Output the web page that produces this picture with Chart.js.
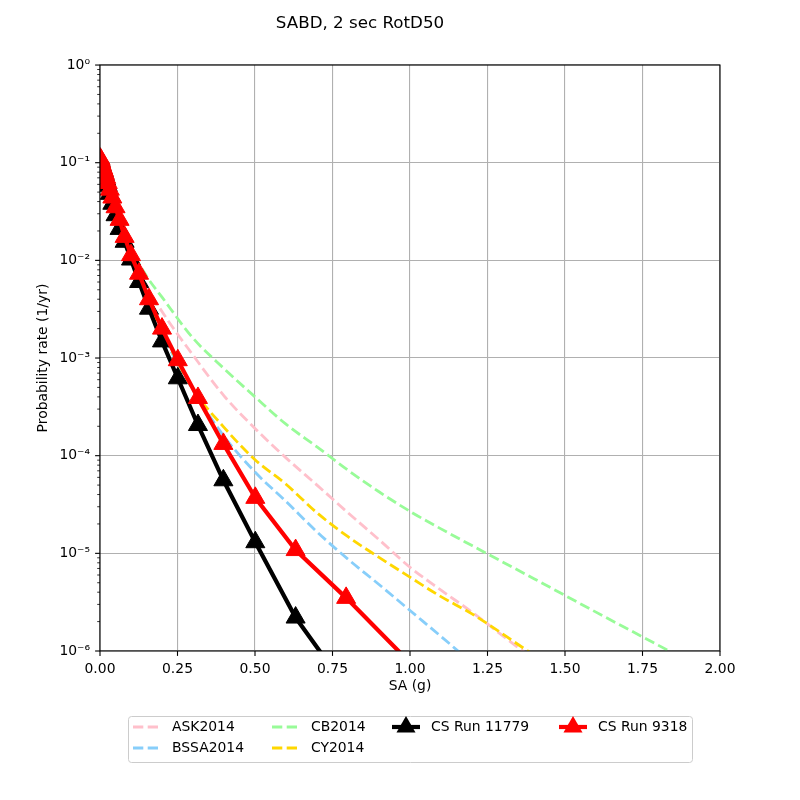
<!DOCTYPE html>
<html>
<head>
<meta charset="utf-8">
<script src="https://cdn.jsdelivr.net/npm/chart.js@4.4.1/dist/chart.umd.min.js"></script>
<style>
  html, body { margin: 0; padding: 0; background: #fff; }
  canvas { display: block; }
</style>
</head>
<body>
<canvas id="hazardChart" width="800" height="800"></canvas>
<script>
// SA levels (g) for the CyberShake runs
const csX = [0.001, 0.00158, 0.00251, 0.00398, 0.00631, 0.01, 0.0126, 0.0158, 0.02, 0.0251, 0.0316, 0.0398, 0.0501, 0.0631, 0.0794, 0.1, 0.126, 0.158, 0.2, 0.251, 0.316, 0.398, 0.501, 0.631, 0.794, 1.0];
const run11779 = [0.107, 0.105, 0.102, 0.098, 0.093, 0.086, 0.081, 0.075, 0.067, 0.058, 0.048, 0.038, 0.029, 0.021, 0.0155, 0.0102, 0.006, 0.0032, 0.00148, 6.2e-4, 2.06e-4, 5.6e-5, 1.3e-5, 2.2e-6, 4.2e-7, 6e-8];
const run9318 = [0.11, 0.108, 0.104, 0.1, 0.095, 0.088, 0.083, 0.077, 0.07, 0.062, 0.053, 0.044, 0.035, 0.026, 0.0174, 0.0113, 0.0073, 0.004, 0.002, 9.5e-4, 3.9e-4, 1.32e-4, 3.7e-5, 1.08e-5, 3.5e-6, 7.6e-7];

// SA levels (g) for the GMPE curves
const gmpeX = [0.001, 0.01, 0.02, 0.05, 0.1, 0.15, 0.2, 0.3, 0.4, 0.5, 0.6, 0.7, 0.8, 0.9, 1.0, 1.1, 1.2, 1.4, 1.6, 1.8, 2.0];
const ask2014 = [0.11, 0.09, 0.072, 0.036, 0.0125, 0.0056, 0.003, 0.00107, 4.1e-4, 1.9e-4, 9.5e-5, 5.0e-5, 2.6e-5, 1.38e-5, 7.2e-6, 4.2e-6, 2.5e-6, 8.3e-7, 3.5e-7, 1.4e-7, 6e-8];
const bssa2014 = [0.11, 0.088, 0.07, 0.034, 0.0105, 0.0038, 0.00175, 4.7e-4, 1.58e-4, 6.8e-5, 3.4e-5, 1.66e-5, 8.7e-6, 4.8e-6, 2.6e-6, 1.41e-6, 7.6e-7, 2.5e-7, 8e-8, 3e-8, 1e-8];
const cb2014 = [0.11, 0.092, 0.076, 0.04, 0.0135, 0.0069, 0.0042, 0.0016, 7.8e-4, 4.0e-4, 2.1e-4, 1.23e-4, 7.1e-5, 4.27e-5, 2.69e-5, 1.78e-5, 1.2e-5, 5.5e-6, 2.5e-6, 1.15e-6, 5.3e-7];
const cy2014 = [0.11, 0.09, 0.072, 0.035, 0.011, 0.0042, 0.0019, 4.8e-4, 1.95e-4, 9.1e-5, 5.1e-5, 2.6e-5, 1.48e-5, 9.1e-6, 5.7e-6, 3.6e-6, 2.4e-6, 9.1e-7, 3.7e-7, 1.5e-7, 6e-8];

const xTicks = [0, 0.25, 0.5, 0.75, 1.0, 1.25, 1.5, 1.75, 2.0];
const yDecades = [1, 0.1, 0.01, 0.001, 1e-4, 1e-5, 1e-6];
const yTickLabels = ["10⁰", "10⁻¹", "10⁻²", "10⁻³", "10⁻⁴", "10⁻⁵", "10⁻⁶"];

Chart.defaults.font.family = "'DejaVu Sans', sans-serif";
Chart.defaults.color = "#000";

const toPoints = (xs, ys) => xs.map((x, i) => ({ x: x, y: ys[i] }));

const dashed = (label, color, ys, order) => ({
  label: label,
  data: toPoints(gmpeX, ys),
  borderColor: color,
  backgroundColor: color,
  borderWidth: 2.8,
  borderDash: [10.3, 4.4],
  pointRadius: 0,
  cubicInterpolationMode: "monotone",
  clip: 0,
  order: order,
});

const withMarkers = (label, color, ys, order) => ({
  label: label,
  data: toPoints(csX, ys),
  borderColor: color,
  backgroundColor: color,
  borderWidth: 4.2,
  pointStyle: "triangle",
  pointRadius: 11,
  pointBackgroundColor: color,
  pointBorderColor: color,
  pointBorderWidth: 1,
  tension: 0,
  clip: 0,
  order: order,
});

// log minor ticks 2..9 between decades
const yAllTicks = [];
for (let e = -6; e <= 0; e++) {
  for (let m = 1; m <= 9; m++) {
    const v = m * Math.pow(10, e);
    if (v <= 1.0000001) yAllTicks.push({ value: v, major: m === 1 });
  }
}

// ticks outside the axes, spines on all four sides
const axesPlugin = {
  id: "mplAxes",
  afterDatasetsDraw(chart) {
    const { ctx, chartArea: a } = chart;
    ctx.save();
    ctx.strokeStyle = "#000";
    ctx.lineWidth = 1.1;
    ctx.strokeRect(a.left, a.top, a.right - a.left, a.bottom - a.top);
    const xs = chart.scales.x;
    xs.ticks.forEach((t) => {
      const px = xs.getPixelForValue(t.value);
      ctx.beginPath();
      ctx.moveTo(px, a.bottom);
      ctx.lineTo(px, a.bottom + 4.9);
      ctx.stroke();
    });
    const ys = chart.scales.y;
    ys.ticks.forEach((t) => {
      const py = ys.getPixelForValue(t.value);
      ctx.lineWidth = t.major ? 1.1 : 0.8;
      ctx.beginPath();
      ctx.moveTo(a.left, py);
      ctx.lineTo(a.left - (t.major ? 4.9 : 2.8), py);
      ctx.stroke();
    });
    ctx.restore();
  },
};

// legend in 4 columns, filled column by column
const legendPlugin = {
  id: "columnLegend",
  afterDraw(chart) {
    const ctx = chart.ctx;
    const slots = [[133, 727], [133, 748], [272, 727], [272, 748], [392, 727], [559, 727]];
    ctx.save();
    ctx.beginPath();
    ctx.roundRect(128.5, 716.5, 564, 46, 3);
    ctx.fillStyle = "rgba(255,255,255,0.8)";
    ctx.fill();
    ctx.strokeStyle = "#cccccc";
    ctx.lineWidth = 1;
    ctx.stroke();
    ctx.font = "13.9px 'DejaVu Sans'";
    ctx.textBaseline = "middle";
    chart.data.datasets.forEach((ds, i) => {
      const [hx, hy] = slots[i];
      ctx.strokeStyle = ds.borderColor;
      ctx.lineWidth = ds.borderWidth;
      ctx.setLineDash(ds.borderDash || []);
      ctx.beginPath();
      ctx.moveTo(hx, hy);
      ctx.lineTo(hx + 28, hy);
      ctx.stroke();
      ctx.setLineDash([]);
      if (ds.pointStyle === "triangle") {
        const r = ds.pointRadius;
        const cx = hx + 14;
        ctx.fillStyle = ds.borderColor;
        ctx.beginPath();
        for (let k = 0; k < 3; k++) {
          const ang = (k * 2 * Math.PI) / 3;
          const px = cx + Math.sin(ang) * r;
          const py = hy - Math.cos(ang) * r;
          if (k === 0) ctx.moveTo(px, py);
          else ctx.lineTo(px, py);
        }
        ctx.closePath();
        ctx.fill();
      }
      ctx.fillStyle = "#000";
      ctx.fillText(ds.label, hx + 39, hy);
    });
    ctx.restore();
  },
};

new Chart(document.getElementById("hazardChart"), {
  type: "line",
  data: {
    datasets: [
      dashed("ASK2014", "#ffc0cb", ask2014, 5),
      dashed("BSSA2014", "#87cefa", bssa2014, 4),
      dashed("CB2014", "#98fb98", cb2014, 3),
      dashed("CY2014", "#ffd700", cy2014, 2),
      withMarkers("CS Run 11779", "#000000", run11779, 1),
      withMarkers("CS Run 9318", "#ff0000", run9318, 0),
    ],
  },
  options: {
    responsive: false,
    animation: false,
    devicePixelRatio: 1,
    layout: { padding: { left: 0, right: 80, top: 0, bottom: 89 } },
    plugins: {
      legend: { display: false },
      tooltip: { enabled: false },
      title: {
        display: true,
        text: "SABD, 2 sec RotD50",
        color: "#000",
        font: { size: 16.7, weight: "normal" },
        padding: { top: 14, bottom: 31 },
      },
    },
    scales: {
      x: {
        type: "linear",
        min: 0,
        max: 2,
        afterBuildTicks: (scale) => {
          scale.ticks = xTicks.map((v) => ({ value: v }));
        },
        afterFit: (scale) => {
          scale.height = 60;
        },
        ticks: {
          padding: 10,
          autoSkip: false,
          maxRotation: 0,
          font: { size: 13.9 },
          callback: (v) => Number(v).toFixed(2),
        },
        grid: { color: "#b0b0b0", lineWidth: 1.1, drawTicks: false },
        border: { display: false },
        title: {
          display: true,
          text: "SA (g)",
          font: { size: 13.9 },
          padding: { top: 0, bottom: 16 },
        },
      },
      y: {
        type: "logarithmic",
        min: 1e-6,
        max: 1,
        afterBuildTicks: (scale) => {
          scale.ticks = yAllTicks.map((t) => ({ value: t.value, major: t.major }));
        },
        afterFit: (scale) => {
          scale.width = 100;
        },
        ticks: {
          padding: 10,
          autoSkip: false,
          font: { size: 13.9 },
          callback: (v) => {
            const i = yDecades.findIndex((d) => Math.abs(d - v) / d < 1e-6);
            return i >= 0 ? yTickLabels[i] : "";
          },
        },
        grid: {
          lineWidth: 1.1,
          drawTicks: false,
          color: (c) => (c.tick && c.tick.major ? "#b0b0b0" : "rgba(0,0,0,0)"),
        },
        border: { display: false },
        title: {
          display: true,
          text: "Probability rate (1/yr)",
          font: { size: 13.9 },
          padding: { top: 34.7, bottom: 0 },
        },
      },
    },
  },
  plugins: [axesPlugin, legendPlugin],
});
</script>
</body>
</html>
